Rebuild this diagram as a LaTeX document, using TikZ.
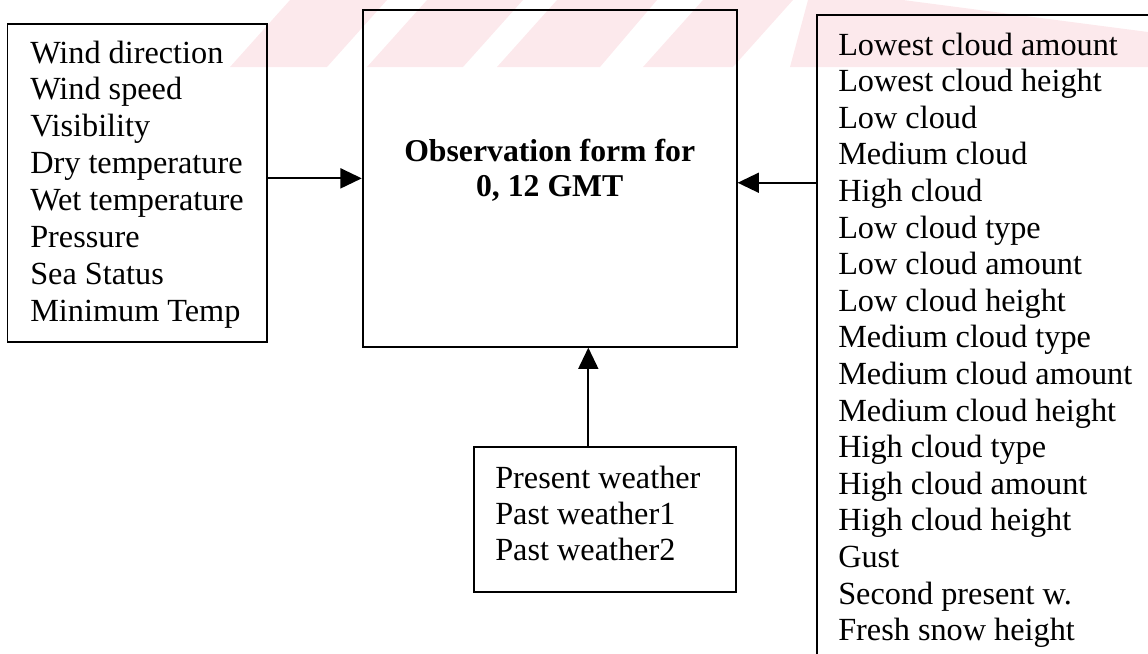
\documentclass[tikz,border=0pt]{standalone}
\usepackage{fontspec}
\setmainfont{Liberation Serif}
\usetikzlibrary{arrows.meta,fit}
\definecolor{wmpink}{RGB}{252,233,236}
\begin{document}
\begin{tikzpicture}[x=0.75pt,y=-0.75pt,
  box/.style={draw=black,line width=1.4pt,inner sep=0pt},
  item/.style={anchor=base west,inner sep=0pt,font=\fontsize{24.2}{27.5}\selectfont},
  title/.style={anchor=base,inner sep=0pt,font=\fontsize{23.8}{27.5}\selectfont\bfseries},
  arr/.style={line width=1.4pt,-{Triangle[length=16pt,width=15pt]}}]
\useasboundingbox (0,0) rectangle (1148,653);
\clip (0,0) rectangle (1148,653);

% pale diagonal band along the top
\fill[wmpink] (230,67) -- (327,67) -- (387,0) -- (290,0) -- cycle;
\fill[wmpink] (367,67) -- (463,67) -- (523,0) -- (427,0) -- cycle;
\fill[wmpink] (497,67) -- (600,67) -- (657,0) -- (557,0) -- cycle;
\fill[wmpink] (643,67) -- (733,67) -- (793,0) -- (703,0) -- cycle;
\fill[wmpink] (790,67) -- (1148,67) -- (1148,32) -- (903,0) -- (808,0) -- cycle;

% boxes
\node[box,fit={(7.5,24) (267,342)}] (left) {};
\node[box,fit={(362.7,10) (736.7,346.7)}] (center) {};
\node[box,fit={(816.7,15) (1175,690)}] (right) {};
\node[box,fit={(474,447.3) (736,592.3)}] (bottom) {};

% centre title
\node[title] (t1) at (549.7,161.7) {Observation form for};
\node[title] (t2) at (549.7,196.7) {0, 12 GMT};

% left list
\foreach \t [count=\i] in {Wind direction,Wind speed,Visibility,Dry temperature,
  Wet temperature,Pressure,Sea Status,Minimum Temp}
  \node[item] (l\i) at (30,{63+(\i-1)*36.95}) {\t};

% right list
\foreach \t [count=\i] in {Lowest cloud amount,Lowest cloud height,Low cloud,
  Medium cloud,High cloud,Low cloud type,Low cloud amount,Low cloud height,
  Medium cloud type,Medium cloud amount,Medium cloud height,High cloud type,
  High cloud amount,High cloud height,Gust,Second present w.,Fresh snow height}
  \node[item] (r\i) at (838,{55+(\i-1)*36.6}) {\t};

% bottom list
\foreach \t [count=\i] in {Present weather,Past weather1,Past weather2}
  \node[item] (b\i) at (495,{488.3+(\i-1)*35.9}) {\t};

% connectors
\coordinate (rin) at ([yshift=-3.3pt]center.east);
\coordinate (up) at (588.3,400);
\draw[arr] (left.east |- center.west) -- (center.west);
\draw[arr] (right.west |- rin) -- (rin);
\draw[arr] (bottom.north -| up) -- (center.south -| up);
\end{tikzpicture}
\end{document}
